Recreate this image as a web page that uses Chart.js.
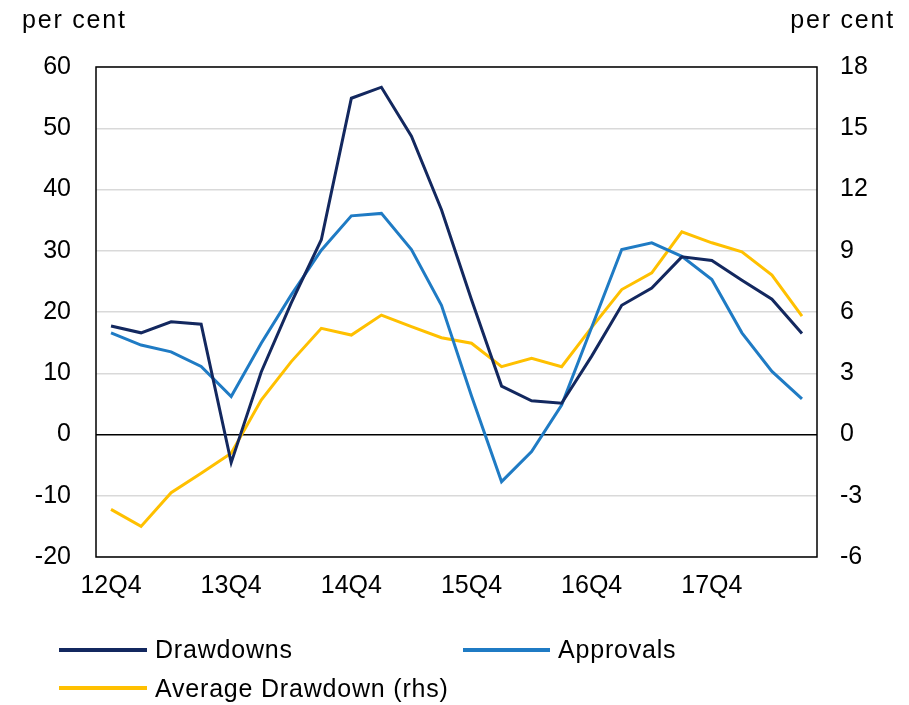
<!DOCTYPE html>
<html>
<head>
<meta charset="utf-8">
<script src="https://cdn.jsdelivr.net/npm/chart.js@4/dist/chart.umd.min.js"></script>
<style>
  html, body { margin: 0; padding: 0; background: #fff; }
  #wrap { position: relative; width: 909px; height: 705px; font-family: "Liberation Sans", Arial, sans-serif; color: #000; }
  canvas { position: absolute; left: 0; top: 0; }
  .t { position: absolute; font-size: 25px; line-height: 25px; white-space: nowrap; }
  .ttl { letter-spacing: 1.8px; }
  .lg { letter-spacing: 0.8px; }
  .ln { position: absolute; height: 4px; }
</style>
</head>
<body>
<div id="wrap">
  <canvas id="c" width="909" height="705"></canvas>
  <div class="t ttl" style="left:22px; top:7px;">per cent</div>
  <div class="t ttl" style="right:14px; top:7px;">per cent</div>
  <div class="ln" style="left:59px; top:648px; width:88px; background:#13285f;"></div>
  <div class="t lg" style="left:155px; top:637px;">Drawdowns</div>
  <div class="ln" style="left:463px; top:648px; width:87px; background:#1f7bc4;"></div>
  <div class="t lg" style="left:558px; top:637px;">Approvals</div>
  <div class="ln" style="left:59px; top:686px; width:88px; background:#ffc000;"></div>
  <div class="t lg" style="left:155px; top:676px;">Average Drawdown (rhs)</div>
</div>
<script>
const quarters = ['12Q4','13Q1','13Q2','13Q3','13Q4','14Q1','14Q2','14Q3','14Q4','15Q1','15Q2','15Q3',
                  '15Q4','16Q1','16Q2','16Q3','16Q4','17Q1','17Q2','17Q3','17Q4','18Q1','18Q2','18Q3'];
const drawdowns = [17.7,16.6,18.4,18.0,-4.6,10.2,21.5,31.8,54.9,56.7,48.7,36.7,
                   22.0,7.9,5.5,5.1,12.8,21.1,23.9,29.0,28.4,25.2,22.1,16.5];
const approvals = [16.6,14.6,13.5,11.1,6.2,14.9,22.8,30.1,35.7,36.1,30.2,21.1,
                   6.3,-7.7,-2.8,4.8,17.5,30.2,31.3,29.1,25.3,16.6,10.3,5.8];
const avgDrawdown = [-3.67,-4.5,-2.85,-1.9,-0.92,1.69,3.57,5.2,4.87,5.85,5.28,4.74,
                     4.47,3.32,3.73,3.32,5.25,7.1,7.92,9.93,9.39,8.95,7.81,5.8];
const leftTicks = {min: -20, max: 60, step: 10};
const rightTicks = {min: -6, max: 18, step: 3};

const FONT = {family: '"Liberation Sans", Arial, sans-serif', size: 25};

const boxPlugin = {
  id: 'box',
  beforeDatasetsDraw(chart) {
    const a = chart.chartArea, ctx = chart.ctx;
    ctx.save();
    ctx.strokeStyle = '#000';
    ctx.lineWidth = 1.5;
    ctx.strokeRect(a.left, a.top, a.right - a.left, a.bottom - a.top);
    ctx.restore();
  }
};

new Chart(document.getElementById('c'), {
  type: 'line',
  data: {
    labels: quarters,
    datasets: [
      {label: 'Drawdowns', data: drawdowns, borderColor: '#13285f', yAxisID: 'y'},
      {label: 'Approvals', data: approvals, borderColor: '#1f7bc4', yAxisID: 'y'},
      {label: 'Average Drawdown (rhs)', data: avgDrawdown, borderColor: '#ffc000', yAxisID: 'y2'}
    ]
  },
  options: {
    responsive: false,
    animation: false,
    layout: {padding: {top: 67, left: 0, right: 0, bottom: 0}},
    elements: {
      line: {borderWidth: 3, tension: 0, fill: false},
      point: {radius: 0, hoverRadius: 0}
    },
    plugins: {legend: {display: false}, tooltip: {enabled: false}},
    scales: {
      x: {
        type: 'category',
        offset: true,
        grid: {display: false, drawTicks: false},
        border: {display: false},
        ticks: {
          autoSkip: false, maxRotation: 0, minRotation: 0, padding: 14,
          color: '#000', font: FONT,
          callback: function(v, i) { return quarters[i].endsWith('Q4') ? quarters[i] : ''; }
        },
        afterFit: s => { s.height = 148; }
      },
      y: {
        position: 'left',
        min: leftTicks.min, max: leftTicks.max,
        grid: {
          drawTicks: false,
          lineWidth: 1.5,
          color: c => (c.tick && c.tick.value === 0) ? '#000' : '#d9d9d9'
        },
        border: {display: false},
        ticks: {stepSize: leftTicks.step, padding: 25, color: '#000', font: FONT},
        afterFit: s => { s.width = 96; }
      },
      y2: {
        position: 'right',
        min: rightTicks.min, max: rightTicks.max,
        grid: {drawOnChartArea: false, drawTicks: false},
        border: {display: false},
        ticks: {stepSize: rightTicks.step, padding: 23, color: '#000', font: FONT},
        afterFit: s => { s.width = 92; }
      }
    }
  },
  plugins: [boxPlugin]
});
</script>
</body>
</html>
